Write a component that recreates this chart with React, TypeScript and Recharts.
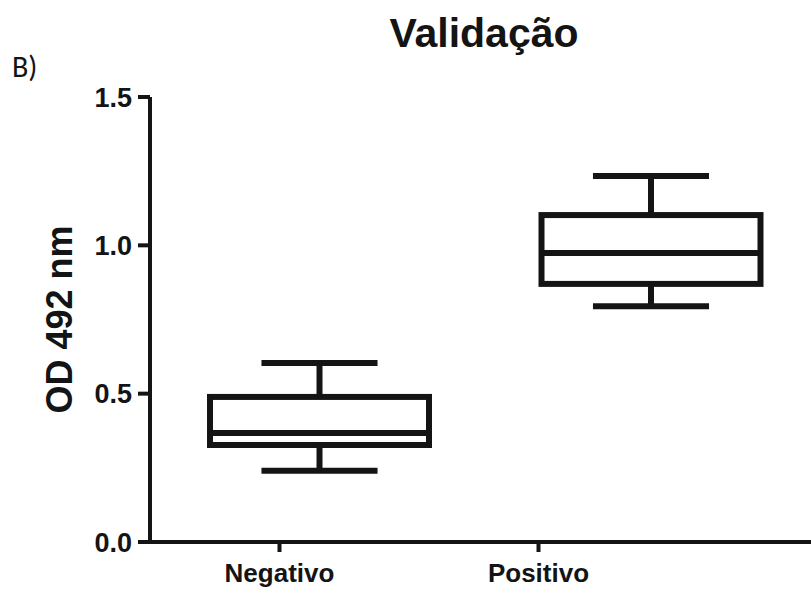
import React from 'react';
import { ComposedChart, Bar, XAxis, YAxis } from 'recharts';

// box plot summary per group
const GROUPS = ['Negativo', 'Positivo'];
const MIN_VALUES = [0.24, 0.795];
const Q1_VALUES = [0.327, 0.87];
const MEDIAN_VALUES = [0.367, 0.974];
const Q3_VALUES = [0.489, 1.102];
const MAX_VALUES = [0.603, 1.234];
const Y_TICKS = [0, 0.5, 1.0, 1.5];

const INK = '#141414';

const data = GROUPS.map((name, i) => ({
    name,
    min: MIN_VALUES[i],
    q1: Q1_VALUES[i],
    median: MEDIAN_VALUES[i],
    q3: Q3_VALUES[i],
    max: MAX_VALUES[i],
}));

// Bar spans 0..max, so value -> pixel comes straight from the bar geometry
const BoxShape = (props: any) => {
    const { x, y, width, height, payload } = props;
    const py = (v: number) => y + height - (height * v) / payload.max;
    const cx = x + width / 2;
    const cap = width * 0.265;
    const sw = 6;
    return (
        <g stroke={INK} strokeWidth={sw} fill="none" strokeLinecap="butt">
            <line x1={cx - cap} x2={cx + cap} y1={py(payload.max)} y2={py(payload.max)} />
            <line x1={cx} x2={cx} y1={py(payload.max)} y2={py(payload.q3)} />
            <rect x={x} y={py(payload.q3)} width={width} height={py(payload.q1) - py(payload.q3)} />
            <line x1={x} x2={x + width} y1={py(payload.median)} y2={py(payload.median)} />
            <line x1={cx} x2={cx} y1={py(payload.q1)} y2={py(payload.min)} />
            <line x1={cx - cap} x2={cx + cap} y1={py(payload.min)} y2={py(payload.min)} />
        </g>
    );
};

export default function App() {
    return (
        <div style={{ position: 'absolute', left: 0, top: 0, width: 811, height: 594, overflow: 'hidden', background: '#fff' }}>
            <div
                style={{
                    position: 'absolute', left: 0, width: 968, top: 13, textAlign: 'center',
                    fontFamily: '"Liberation Sans", Arial, sans-serif', fontWeight: 700, fontSize: 41,
                    lineHeight: '41px', color: INK,
                }}
            >
                Validação
            </div>
            <div
                style={{
                    position: 'absolute', left: 12, top: 52,
                    fontFamily: 'Carlito, "Open Sans", sans-serif', fontSize: 30, lineHeight: '30px', color: INK,
                }}
            >
                B)
            </div>
            <ComposedChart
                width={817}
                height={594}
                data={data}
                margin={{ top: 97, right: 0, left: 70, bottom: 0 }}
                style={{ position: 'absolute', left: 0, top: 0 }}
            >
                <XAxis
                    xAxisId="box"
                    dataKey="name"
                    hide
                    height={0}
                    padding={{ left: 4, right: 0 }}
                />
                <XAxis
                    xAxisId="label"
                    dataKey="name"
                    height={52}
                    axisLine={{ stroke: INK, strokeWidth: 4 }}
                    padding={{ left: 0, right: 149 }}
                    tickSize={10}
                    tickMargin={12}
                    tickLine={{ stroke: INK, strokeWidth: 4 }}
                    tick={{ fill: INK, fontSize: 26, fontWeight: 700, fontFamily: '"Liberation Sans", Arial, sans-serif' }}
                />
                <YAxis
                    width={80}
                    domain={[0, 1.5]}
                    ticks={Y_TICKS}
                    tickFormatter={(v: number) => v.toFixed(1)}
                    tickSize={12}
                    tickMargin={6}
                    axisLine={{ stroke: INK, strokeWidth: 4 }}
                    tickLine={{ stroke: INK, strokeWidth: 4 }}
                    tick={{ fill: INK, fontSize: 27, fontWeight: 700, fontFamily: '"Liberation Sans", Arial, sans-serif' }}
                    label={{
                        value: 'OD 492 nm',
                        angle: -90,
                        position: 'insideLeft',
                        offset: -11,
                        fill: INK,
                        fontSize: 36,
                        fontWeight: 700,
                        fontFamily: '"Liberation Sans", Arial, sans-serif',
                        style: { textAnchor: 'middle' },
                    }}
                />
                <Bar
                    xAxisId="box"
                    dataKey="max"
                    barSize={219}
                    shape={BoxShape}
                    isAnimationActive={false}
                />
            </ComposedChart>
        </div>
    );
}
